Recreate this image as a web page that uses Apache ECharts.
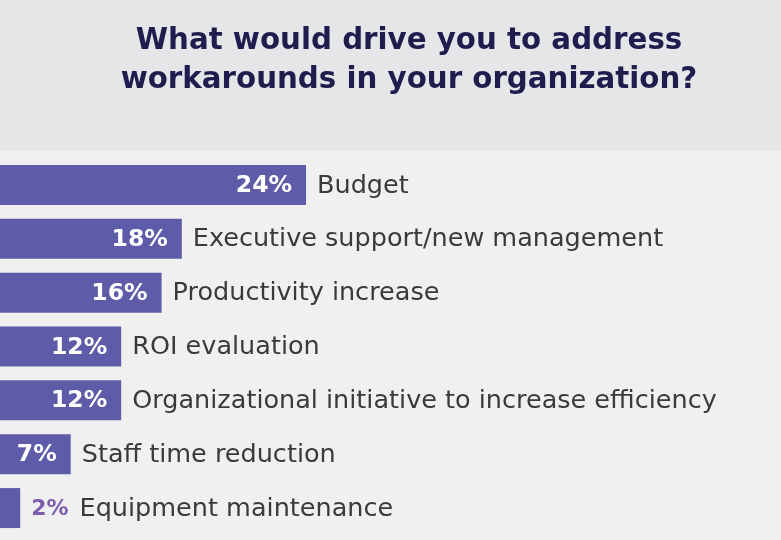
<!DOCTYPE html>
<html>
<head>
<meta charset="utf-8">
<script src="https://cdn.jsdelivr.net/npm/echarts@6/dist/echarts.min.js"></script>
<style>
html,body{margin:0;padding:0;background:#f0f0f0;}
#chart{width:781px;height:540px;}
</style>
</head>
<body>
<div id="chart"></div>
<script>
// Categories, top to bottom
const categories = [
  "Budget",
  "Executive support/new management",
  "Productivity increase",
  "ROI evaluation",
  "Organizational initiative to increase efficiency",
  "Staff time reduction",
  "Equipment maintenance"
];
// Reported percentages (labels)
const percents = [24, 18, 16, 12, 12, 7, 2];
// Bar lengths as drawn in the picture (Budget bar is drawn longer than its label)
const barLengths = [30.3, 18, 16, 12, 12, 7, 2];
const titleLines = ["What would drive you to address", "workarounds in your organization?"];

const chart = echarts.init(document.getElementById('chart'), null, {renderer: 'canvas'});
const FONT = "'DejaVu Sans', sans-serif";
const option = {
  backgroundColor: '#f0f0f0',
  animation: false,
  graphic: [
    {type: 'rect', shape: {x: 0, y: 0, width: 781, height: 151}, style: {fill: '#e5e6e8'}, z: -10}
  ],
  title: {
    text: titleLines.join('\n'),
    left: 404, top: 17, textAlign: 'center',
    textStyle: {fontFamily: FONT, fontWeight: 'bold', fontSize: 29.3, color: '#201d4e', lineHeight: 39}
  },
  grid: {left: 0, width: 505, top: 158, height: 377, containLabel: false},
  xAxis: {type: 'value', min: 0, max: 50, show: false},
  yAxis: {type: 'category', data: categories, inverse: true, show: false},
  series: [
    {
      type: 'bar', data: barLengths, barWidth: 40,
      itemStyle: {color: '#5e5ca9'},
      label: {
        show: true, position: 'insideRight', distance: 14, offset: [0, 1],
        formatter: p => percents[p.dataIndex] >= 5 ? percents[p.dataIndex] + '%' : '',
        fontFamily: FONT, fontWeight: 'bold', fontSize: 23.5, color: '#ffffff'
      },
      z: 2
    },
    {
      type: 'bar', data: barLengths, barWidth: 40, barGap: '-100%',
      itemStyle: {color: 'rgba(0,0,0,0)'},
      label: {
        show: true, position: 'right', distance: 11, offset: [0, 1],
        formatter: p => percents[p.dataIndex] >= 5 ? '{n|' + categories[p.dataIndex] + '}'
                       : '{p|' + percents[p.dataIndex] + '%}{g|}{n|' + categories[p.dataIndex] + '}',
        rich: {
          n: {fontFamily: FONT, fontSize: 25.5, color: '#3a3a3d'},
          g: {width: 11},
          p: {fontFamily: FONT, fontWeight: 'bold', fontSize: 22, color: '#7d5dab'}
        }
      },
      z: 3
    }
  ]
};
chart.setOption(option);
</script>
</body>
</html>
